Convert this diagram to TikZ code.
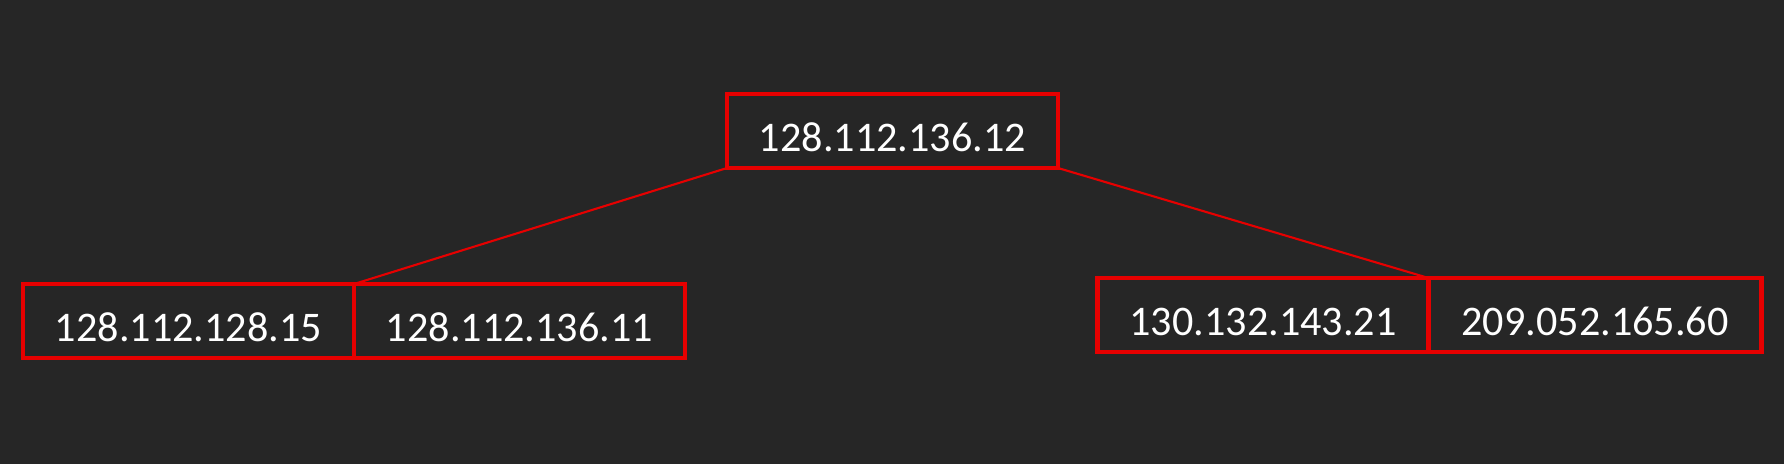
\documentclass[tikz,border=0pt]{standalone}
\usepackage{fontspec}
\setmainfont{Carlito}
\usetikzlibrary{positioning}
\definecolor{slide}{RGB}{38,38,38}
\definecolor{boxred}{RGB}{230,0,0}
\tikzset{
    ip/.style = {
        draw = boxred,
        line width = 1.2pt,
        text = white,
        minimum width = 3.31cm,
        minimum height = 0.74cm,
        inner sep = 0pt,
        outer sep = 0pt,
        text height = 11.6pt,
        text depth = 0pt,
        font = \fontsize{12}{14}\selectfont,
        },
    link/.style = {
        draw = boxred,
        line width = 0.6pt,
        },
}

\begin{document}
\begin{tikzpicture}
            \fill[slide] (0,0) rectangle (17.84,4.64);
            \useasboundingbox (0,0) rectangle (17.84,4.64);

            \node[ip] (root) at (8.925,3.33) {128.112.136.12};
            \node[ip] (l1) at (1.885,1.43) {128.112.128.15};
            \node[ip, right=0pt of l1] (l2) {128.112.136.11};
            \node[ip] (r1) at (12.63,1.49) {130.132.143.21};
            \node[ip, right=0pt of r1, minimum width=3.33cm] (r2) {209.052.165.60};

            \path (root.south west) edge[link] (l1.north east);
            \path (root.south east) edge[link] (r1.north east);
        \end{tikzpicture}
\end{document}
